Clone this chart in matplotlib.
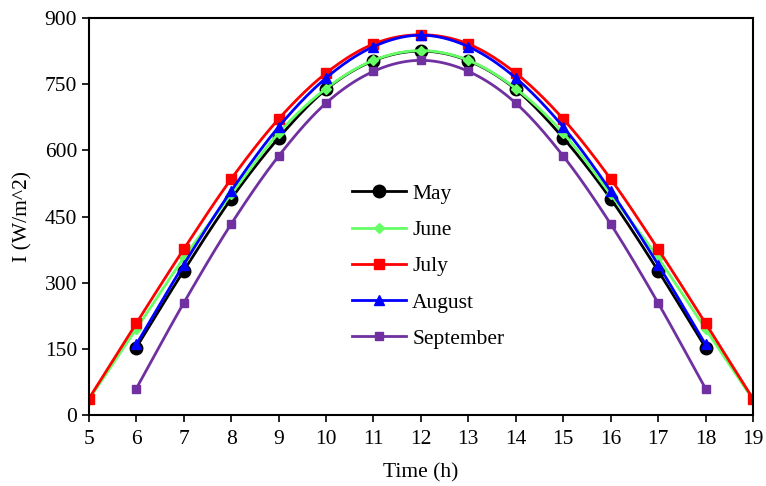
import matplotlib
matplotlib.use('Agg')
import matplotlib.pyplot as plt
import numpy as np

plt.rcParams['font.family'] = ['Liberation Serif', 'DejaVu Serif']

# hours and irradiance values per month (W/m^2)
hours_may = [6, 7, 8, 9, 10, 11, 12, 13, 14, 15, 16, 17, 18]
may = [153, 327, 490, 628, 738, 803, 825, 803, 738, 628, 490, 327, 153]

hours_june = [5, 6, 7, 8, 9, 10, 11, 12, 13, 14, 15, 16, 17, 18, 19]
june = [35, 195, 356, 500, 639, 740, 804, 826, 804, 740, 639, 500, 356, 195, 35]

hours_july = [5, 6, 7, 8, 9, 10, 11, 12, 13, 14, 15, 16, 17, 18, 19]
july = [37, 208, 376, 535, 671, 775, 841, 862, 841, 775, 671, 535, 376, 208, 37]

hours_aug = [6, 7, 8, 9, 10, 11, 12, 13, 14, 15, 16, 17, 18]
august = [160, 341, 508, 653, 764, 835, 861, 835, 764, 653, 508, 341, 160]

hours_sep = [6, 7, 8, 9, 10, 11, 12, 13, 14, 15, 16, 17, 18]
september = [60, 254, 433, 587, 707, 779, 804, 779, 707, 587, 433, 254, 60]


def smooth(x, y, n=20):
    # Catmull-Rom curve through the points, like Excel's smoothed line
    x = np.asarray(x, float)
    y = np.asarray(y, float)
    px = np.concatenate([[2 * x[0] - x[1]], x, [2 * x[-1] - x[-2]]])
    py = np.concatenate([[2 * y[0] - y[1]], y, [2 * y[-1] - y[-2]]])
    xs, ys = [], []
    t = np.linspace(0, 1, n, endpoint=False)
    for i in range(1, len(px) - 2):
        for arr, out in ((px, xs), (py, ys)):
            p0, p1, p2, p3 = arr[i - 1], arr[i], arr[i + 1], arr[i + 2]
            out.extend(0.5 * (2 * p1 + (-p0 + p2) * t
                              + (2 * p0 - 5 * p1 + 4 * p2 - p3) * t ** 2
                              + (-p0 + 3 * p1 - 3 * p2 + p3) * t ** 3))
    xs.append(x[-1])
    ys.append(y[-1])
    return xs, ys


fig = plt.figure(figsize=(7.66, 4.86), dpi=100)
ax = fig.add_axes([0.116, 0.146, 0.867, 0.817])

series = [
    (hours_may, may, 'May', 'black', 'o', 9),
    (hours_june, june, 'June', '#66FF66', 'D', 5.5),
    (hours_july, july, 'July', '#FF0000', 's', 6.5),
    (hours_aug, august, 'August', '#0000FF', '^', 7),
    (hours_sep, september, 'September', '#7030A0', 's', 6),
]

for xv, yv, name, col, mk, ms in series:
    sx, sy = smooth(xv, yv)
    ax.plot(sx, sy, color=col, lw=2)
    ax.plot(xv, yv, ls='none', marker=mk, ms=ms, color=col)
    ax.plot([], [], color=col, lw=2, marker=mk, ms=ms, label=name)

ax.set_xlim(5, 19)
ax.set_ylim(0, 900)
ax.set_xticks(range(5, 20))
ax.set_yticks(range(0, 901, 150))
ax.tick_params(direction='out', length=5, width=1.2, labelsize=15.5)
ax.tick_params(axis='x', pad=6)
for s in ax.spines.values():
    s.set_linewidth(1.5)

ax.set_xlabel('Time (h)', fontsize=15.5, labelpad=10)
ax.set_ylabel('I (W/m^2)', fontsize=15.5, labelpad=9)

ax.legend(loc='upper left', bbox_to_anchor=(0.396, 0.582), frameon=False,
          borderaxespad=0, borderpad=0, fontsize=15.5, handlelength=2.5,
          labelspacing=0.75, handletextpad=0.3)

fig.savefig('out.png', dpi=100)
